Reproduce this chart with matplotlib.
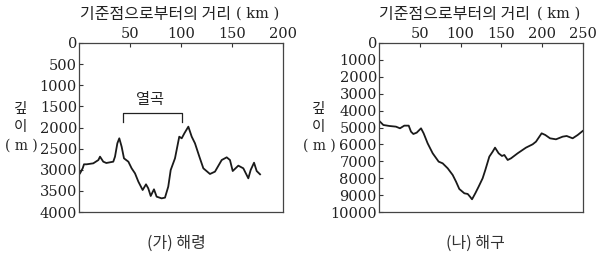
import numpy as np
import matplotlib.pyplot as plt

# (가) 해령 profile: distance (km), depth (m)
ridge_km = [1, 3.6, 4.9, 7.5, 14, 19, 20.6, 23.8, 26.8, 33.6, 35.3, 37.6, 39.5, 41.8, 44.1,
            48.4, 51.6, 54.9, 58.2, 62.4, 65.7, 67.9, 70.3, 73.5, 76.1, 81, 84.3, 87.5, 89.9,
            94.1, 98.3, 100.7, 103.3, 107.2, 110.5, 113.7, 118, 121.9, 128.4, 133.3, 139.9,
            144.8, 148, 150.7, 156.2, 161.1, 166, 168.3, 171.6, 174.2, 177.5]
ridge_depth = [3085, 2966, 2871, 2871, 2848, 2770, 2690, 2809, 2840, 2809, 2690, 2374, 2256,
               2454, 2730, 2809, 2966, 3085, 3282, 3479, 3345, 3440, 3621, 3463, 3637, 3677,
               3660, 3400, 3006, 2730, 2217, 2256, 2138, 1980, 2217, 2374, 2690, 2966, 3100,
               3045, 2770, 2706, 2770, 3030, 2903, 2966, 3203, 3006, 2833, 3030, 3108]

# (나) 해구 profile
trench_km = [0, 5.3, 12.7, 20.8, 25.7, 31, 36.4, 39.2, 42.1, 46.2, 51.5, 54.7, 59.6, 65.8,
             73.1, 78, 84.2, 90.3, 94.4, 98.4, 104.6, 108.7, 111.5, 114, 118, 122.1, 127,
             130.3, 135.2, 139.3, 142.2, 146.6, 150.7, 153.6, 157.7, 161.8, 169.9, 180.1,
             188.3, 192.4, 195.7, 199.3, 203.8, 209.6, 216.9, 225.1, 230, 237.3, 243.5, 249.6]
trench_depth = [4595, 4851, 4910, 4950, 5048, 4890, 4890, 5245, 5384, 5305, 5048, 5344, 5936,
                6527, 7020, 7119, 7415, 7809, 8204, 8638, 8894, 8933, 9091, 9249, 8894, 8500,
                8006, 7513, 6724, 6429, 6192, 6527, 6685, 6626, 6922, 6823, 6527, 6192, 5995,
                5837, 5601, 5344, 5443, 5640, 5699, 5541, 5502, 5640, 5443, 5206]

ridge_xticks = [50, 100, 150, 200]
ridge_yticks = [0, 500, 1000, 1500, 2000, 2500, 3000, 3500, 4000]
trench_xticks = [50, 100, 150, 200, 250]
trench_yticks = list(range(0, 10001, 1000))

rift_start, rift_end = 43, 101

KR = 'Noto Sans CJK KR'
SERIF = 'DejaVu Serif'
num_size = 10.5
INK = '#222222'

W, H = 596, 259
fig = plt.figure(figsize=(W/100, H/100), dpi=100)
ax1 = fig.add_axes([79/W, 1-212/H, 204/W, 169/H])
ax2 = fig.add_axes([379/W, 1-212/H, 204/W, 169/H])


def style(ax, xmax, ymax, xticks, yticks):
    ax.set_xlim(0, xmax)
    ax.set_ylim(ymax, 0)
    ax.xaxis.tick_top()
    ax.set_xticks(xticks)
    ax.set_yticks(yticks)
    ax.tick_params(direction='in', length=3, width=0.8, color='#333333', pad=1.5,
                   labelsize=num_size)
    for lab in ax.get_xticklabels() + ax.get_yticklabels():
        lab.set_family(SERIF)
        lab.set_color(INK)
    for s in ax.spines.values():
        s.set_color('#444444')
        s.set_linewidth(0.9)


ax1.plot(ridge_km, ridge_depth, color='#1a1a1a', lw=1.3)
style(ax1, 200, 4000, ridge_xticks, ridge_yticks)

ax2.plot(trench_km, trench_depth, color='#1a1a1a', lw=1.3)
style(ax2, 250, 10000, trench_xticks, trench_yticks)

# rift valley bracket
ax1.plot([rift_start, rift_start, rift_end, rift_end], [1870, 1650, 1650, 1870],
         color=INK, lw=0.9)
ax1.text(70, 1340, '열곡', family=KR, fontsize=11, ha='center', va='center', color=INK)

# titles: Korean part + serif (km)
for x_start, x_end in [(80, 279), (379, 580)]:
    fig.text(x_start/W, 1-14/H, '기준점으로부터의 거리', family=KR, fontsize=11.5,
             ha='left', va='center', color=INK)
    fig.text(x_end/W, 1-14/H, '( km )', family=SERIF, fontsize=10.5,
             ha='right', va='center', color=INK)

# y labels
for gx in [20, 318]:
    fig.text(gx/W, 1-109/H, '깊', family=KR, fontsize=10.5, ha='center', va='center',
             color=INK)
    fig.text(gx/W, 1-127/H, '이', family=KR, fontsize=10.5, ha='center', va='center',
             color=INK)
    fig.text((gx+1)/W, 1-146/H, '( m )', family=SERIF, fontsize=10, ha='center',
             va='center', color=INK)

fig.text(176/W, 1-243/H, '(가) 해령', family=KR, fontsize=11.5, ha='center', va='center',
         color='#333333')
fig.text(475/W, 1-243/H, '(나) 해구', family=KR, fontsize=11.5, ha='center', va='center',
         color='#333333')

fig.savefig('out.png', dpi=100)
